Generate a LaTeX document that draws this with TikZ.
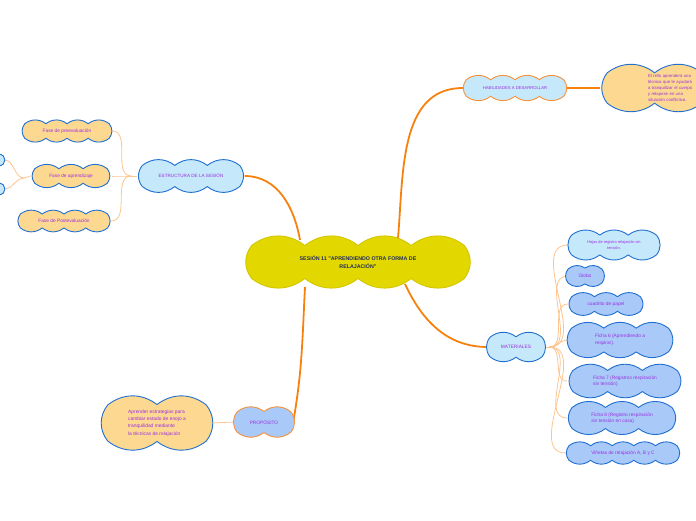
\documentclass[tikz,border=0pt]{standalone}
\usepackage{fontspec}
\setmainfont{Liberation Sans}
\usetikzlibrary{calc,backgrounds}
\definecolor{cyel}{HTML}{E3D700}
\definecolor{cyelbd}{HTML}{D3C600}
\definecolor{navyT}{HTML}{1F2D5C}
\definecolor{lblue}{HTML}{C5E8FA}
\definecolor{mblue}{HTML}{A9C9F8}
\definecolor{ylw}{HTML}{FDD891}
\definecolor{bblue}{HTML}{1F6FD0}
\definecolor{obd}{HTML}{F7923A}
\definecolor{orT}{HTML}{F7810F}
\definecolor{orL}{HTML}{FCC48E}
\definecolor{purp}{HTML}{9B30E0}
% cloud outline: #1 cx, #2 cy, #3 w, #4 h, #5 fill, #6 border
\newcommand\cld[6]{%
 \pgfmathsetmacro\ra{#4*0.33}%
 \pgfmathsetmacro\aa{max(0,#3/2-#4*0.16)}%
 \pgfmathsetmacro\Pm{4*\aa+2*pi*\ra}%
 \pgfmathtruncatemacro\N{2*max(3,round(\Pm/(2*#4)))}%
 \pgfmathsetmacro\sA{pi*\ra}%
 \pgfmathsetmacro\sB{pi*\ra+2*\aa}%
 \pgfmathsetmacro\sC{2*pi*\ra+2*\aa}%
 \foreach \k in {0,...,\N}{%
   \pgfmathsetmacro\s{mod(pi*\ra/2+(\k+0.5)*\Pm/\N,\Pm)}%
   \pgfmathsetmacro\phA{90+\s/\ra*57.29578}%
   \pgfmathsetmacro\phC{-90+(\s-\sB)/\ra*57.29578}%
   \pgfmathsetmacro\px{\s<=\sA ? #1-\aa+\ra*cos(\phA) : (\s<=\sB ? #1-\aa+\s-\sA : (\s<=\sC ? #1+\aa+\ra*cos(\phC) : #1+\aa-(\s-\sC)))}%
   \pgfmathsetmacro\py{\s<=\sA ? #2+\ra*sin(\phA) : (\s<=\sB ? #2-\ra : (\s<=\sC ? #2+\ra*sin(\phC) : #2+\ra))}%
   \coordinate (cp\k) at (\px,\py);
 }%
 \path[fill=#5, draw=#6, line width=0.9pt, line join=round]
   (cp0) \foreach \k in {1,...,\N}{ to[bend right=38] (cp\k) } -- cycle;
}
% cloud node: #1 name, #2 cx, #3 cy, #4 w, #5 h, #6 fill, #7 border, #8 options, #9 text
\newcommand\cnode[9]{%
 \cld{#2}{#3}{#4}{#5}{#6}{#7}
 \node[txt, minimum width=#4pt, minimum height=#5pt, #8] (#1) at (#2,#3) {#9};
}
\begin{document}
\begin{tikzpicture}[x=1pt,y=1pt,
  txt/.style={inner sep=0pt, align=center, text=purp, font=\fontsize{4.8}{6.5}\selectfont},
  thick/.style={draw=orT, line width=1.8pt},
  thin/.style={draw=orL, line width=0.8pt}]
\useasboundingbox (0,0) rectangle (696,-520);
\clip (0,0) rectangle (696,-520);

% central
\cnode{c}{358}{-262}{230}{50}{cyel}{cyelbd}{text=navyT, font=\bfseries\fontsize{5.3}{8.5}\selectfont}
  {SESIÓN 11 "APRENDIENDO OTRA FORMA DE\\RELAJACIÓN"}

% habilidades
\cnode{h}{515}{-88}{104}{25}{lblue}{obd}{font=\fontsize{4.2}{5}\selectfont}{HABILIDADES A DESARROLLAR}
\cnode{t}{702}{-88}{204}{46}{ylw}{bblue}{text width=108pt, align=left, font=\fontsize{4.3}{6}\selectfont}
  {El niño aprenderá una\\técnica que le ayudará\\a tranquilizar el cuerpo\\y relajarse en una\\situación conflictiva.}

% estructura
\cnode{e}{191}{-176}{107}{32}{lblue}{bblue}{font=\fontsize{4.6}{5}\selectfont}{ESTRUCTURA DE LA SESIÓN}
\cnode{f1}{67}{-131}{90}{22}{ylw}{bblue}{}{Fase de preevaluación}
\cnode{f2}{71}{-176}{81}{22}{ylw}{bblue}{}{Fase de aprendizaje}
\cnode{f3}{64}{-221}{94}{21}{ylw}{bblue}{}{Fase de Postevaluación}
\cnode{l1}{-7}{-160}{22}{13}{lblue}{bblue}{}{}
\cnode{l2}{-7}{-189}{22}{13}{lblue}{bblue}{}{}

% materiales
\cnode{m}{516}{-347}{56}{31}{lblue}{bblue}{font=\fontsize{4.8}{5}\selectfont}{MATERIALES}
\cnode{m1}{614}{-245}{92}{30}{lblue}{bblue}{font=\fontsize{3.9}{5.5}\selectfont}{Hojas de registro relajación sin\\tensión.}
\cnode{m2}{585}{-276}{34}{24}{mblue}{bblue}{}{Globo}
\cnode{m3}{606}{-304}{76}{22}{mblue}{bblue}{}{cuadrito de papel}
\cnode{m4}{620}{-340}{104}{36}{mblue}{bblue}{align=left}{Ficha 6 (Aprendiendo a\\respirar).}
\cnode{m5}{625}{-381}{116}{32}{mblue}{bblue}{align=left}{Ficha 7 (Registros respiración\\sin tensión)}
\cnode{m6}{622}{-418}{110}{32}{mblue}{bblue}{align=left}{Ficha 8 (Registro respiración\\sin tensión en casa)}
\cnode{m7}{623}{-453}{114}{22}{mblue}{bblue}{}{Viñetas de relajación A, B y C}

% proposito
\cnode{p}{264}{-422}{58}{32}{mblue}{obd}{}{PROPÓSITO}
\cnode{a}{157}{-423}{108}{56}{ylw}{bblue}{align=left, font=\fontsize{4.9}{7.4}\selectfont}
  {Aprender estrategias para\\cambiar estado de enojo a\\tranquilidad mediante\\la técnicas de relajación}

\begin{pgfonlayer}{background}
  \draw[thick] ($(c.center)+(40,24)$) to[out=85,in=180] (h.west);
  \draw[thick] (h.east) -- (t.west);
  \draw[thick] ($(c.center)+(-58,22)$) to[out=100,in=0] (e.east);
  \draw[thick] ($(c.center)+(47,-22)$) to[out=-65,in=180] (m.west);
  \draw[thick] ($(c.center)+(-53,-25)$) to[out=-93,in=80] (p.east);

  \coordinate (ej) at ($(e.west)+(-6,0)$);
  \draw[thin] (e.west) -- (ej);
  \foreach \n in {f1,f2,f3} \draw[thin] (ej) to[out=180,in=0] (\n.east);
  \coordinate (fj) at ($(f2.west)+(-6,-2)$);
  \draw[thin] (f2.west) -- (fj);
  \foreach \n in {l1,l2} \draw[thin] (fj) to[out=180,in=0] (\n.east);

  \coordinate (mj) at ($(m.east)+(5,0)$);
  \draw[thin] (m.east) -- (mj);
  \foreach \n in {m1,m2,m3,m4,m5,m6,m7} \draw[thin] (mj) to[out=0,in=180] (\n.west);

  \draw[thin] (p.west) -- (a.east);
\end{pgfonlayer}
\end{tikzpicture}
\end{document}
